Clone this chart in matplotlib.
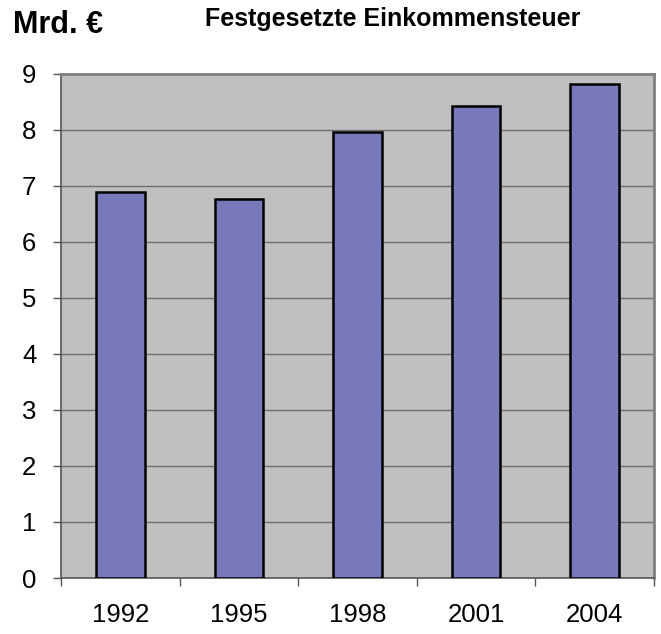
import matplotlib.pyplot as plt
import numpy as np

# data
years = ["1992", "1995", "1998", "2001", "2004"]
values = [6.89, 6.76, 7.96, 8.42, 8.81]
yticks = list(range(0, 10))

plt.rcParams['font.family'] = ['Liberation Sans', 'DejaVu Sans']

fig = plt.figure(figsize=(6.61, 6.34), dpi=100)
ax = fig.add_axes([61 / 661, 1 - 578 / 634, (654 - 61) / 661, (578 - 73.5) / 634])
ax.set_facecolor("#C0C0C0")

x = np.arange(len(years))
ax.bar(x, values, width=0.41, color="#7779BA", edgecolor="black", linewidth=1.8, zorder=3)

ax.set_xlim(-0.5, len(years) - 0.5)
ax.set_ylim(0, 9)
ax.set_yticks(yticks)
ax.set_yticklabels([str(t) for t in yticks], fontsize=18.5)
ax.yaxis.grid(True, color="#6E6E6E", linewidth=1.0, zorder=1)
ax.set_axisbelow(True)

# category labels centered, tick marks at the boundaries
ax.set_xticks(x)
ax.set_xticklabels(years, fontsize=18.5)
ax.tick_params(axis="x", length=0, pad=18)
ax.set_xticks(np.arange(-0.5, len(years)), minor=True)
ax.tick_params(axis="x", which="minor", length=5.5, color="#555555", width=1)
ax.tick_params(axis="y", length=5.8, color="#555555", width=1, pad=12)

for s in ["left", "bottom"]:
    ax.spines[s].set_color("#555555")
    ax.spines[s].set_linewidth(1.2)
for s in ["top", "right"]:
    ax.spines[s].set_color("#808080")
    ax.spines[s].set_linewidth(2)

fig.text(13 / 661, 1 - 33 / 634, "Mrd. €", fontsize=22, fontweight="bold", va="baseline", ha="left")
fig.text(392.5 / 661, 1 - 26 / 634, "Festgesetzte Einkommensteuer", fontsize=18,
         fontweight="bold", va="baseline", ha="center")

plt.savefig("out.png", dpi=100)
